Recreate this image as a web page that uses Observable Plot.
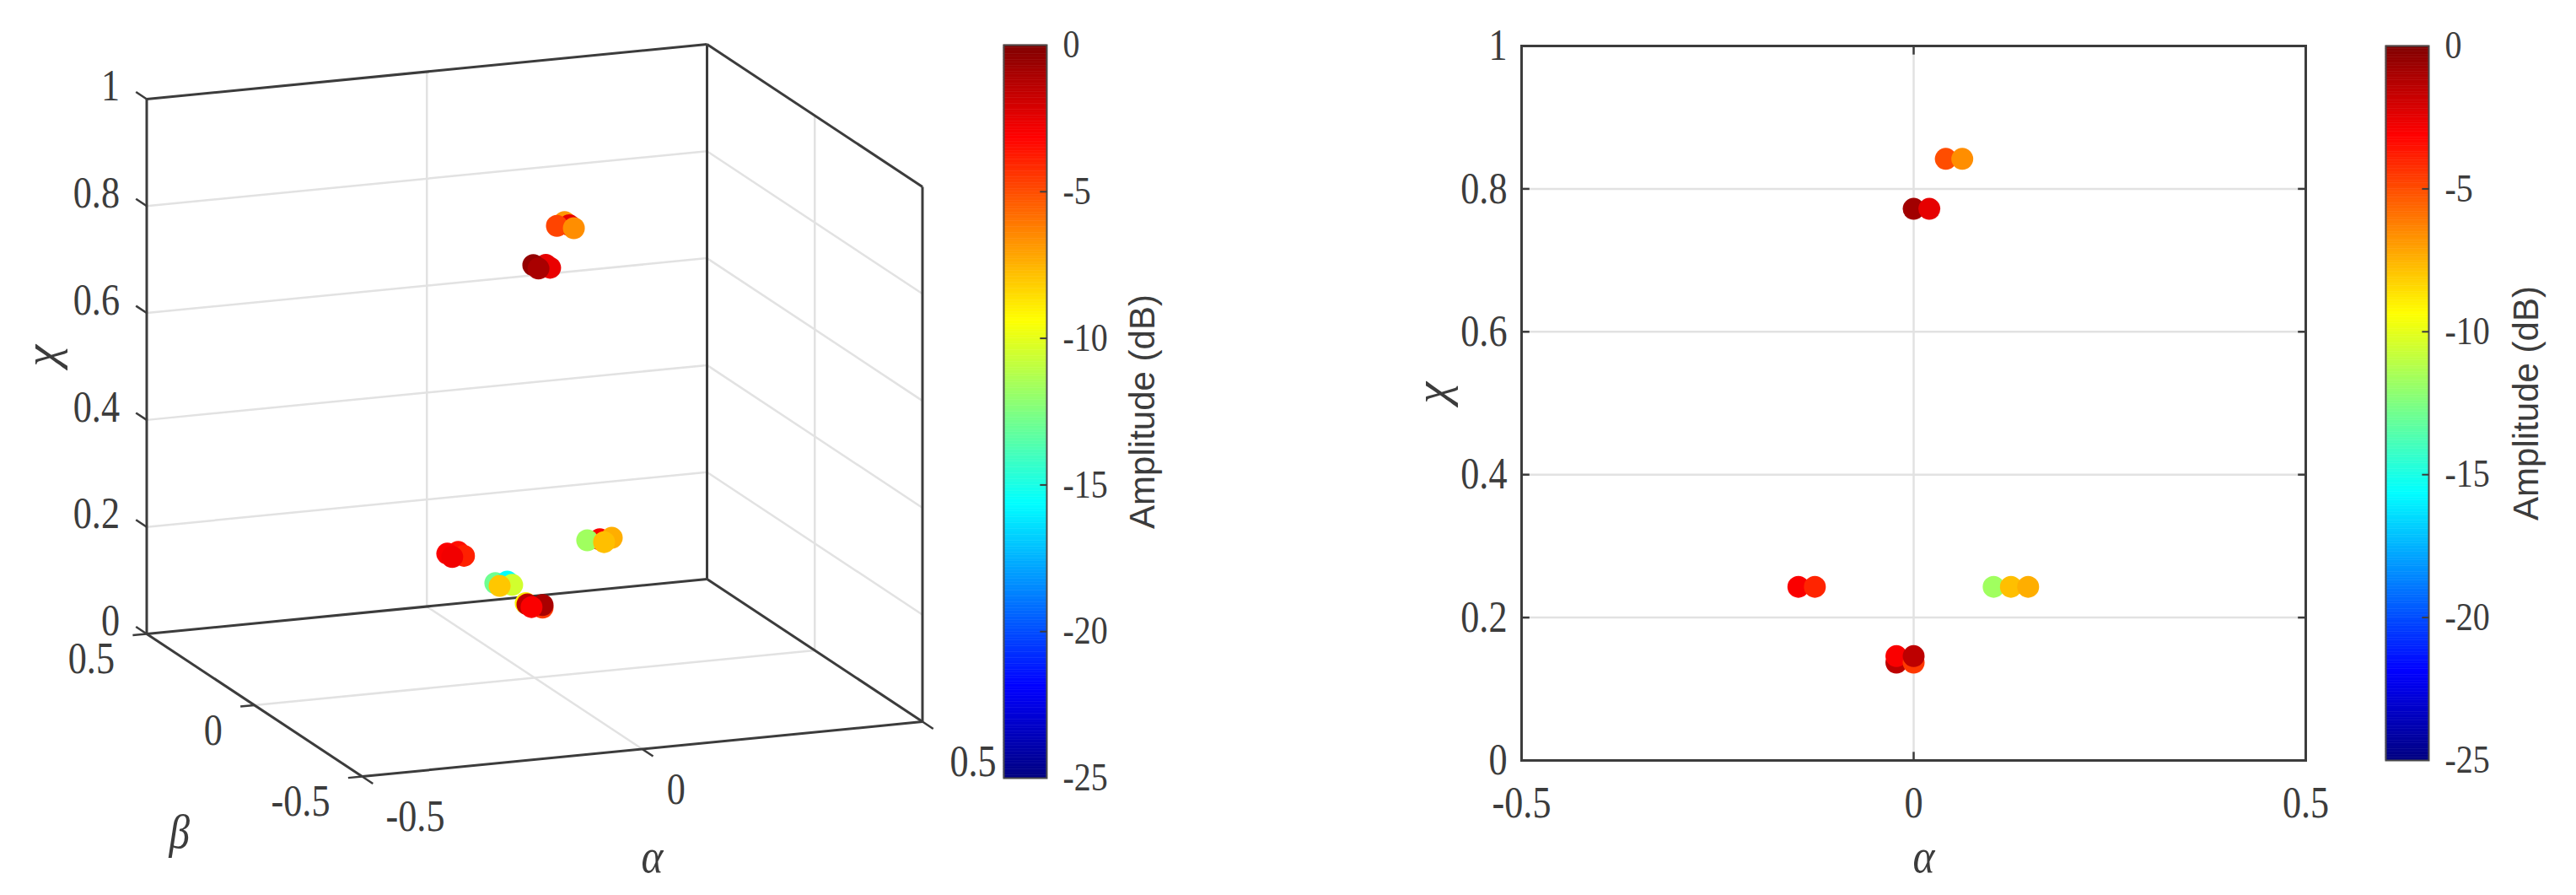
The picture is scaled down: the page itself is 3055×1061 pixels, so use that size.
<!DOCTYPE html>
<html>
<head>
<meta charset="utf-8">
<script src="https://cdn.jsdelivr.net/npm/d3@7"></script>
<script src="https://cdn.jsdelivr.net/npm/@observablehq/plot@0.6"></script>
<style>
html,body{margin:0;padding:0;background:#fff;}
#page{position:relative;width:3055px;height:1061px;overflow:hidden;}
#page>div{position:absolute;top:0;}
svg{display:block;max-width:none !important;}
#page svg text{font-family:"Liberation Serif","Times New Roman",serif;}
#page svg g[font-family="Liberation Sans"] text{font-family:"Liberation Sans",Arial,sans-serif;}
</style>
</head>
<body>
<div id="page"><div id="p3d" style="left:0"></div><div id="cb1"></div><div id="p2d" style="left:1527px"></div><div id="cb2"></div></div>
<script>
// ---- Data ----
// 3-D view points, in drawing order
const a3 = [.062,.062,.041,.062,  .02,.02,0,0,  .124,.146,.102,.124,  -.126,-.126,-.147,-.147,  -.022,0,0,-.022,  -.022,-.022,0,0,-.022];
const b3 = [.022,0,.003,-.021,  0,-.02,.006,-.018,  .02,.0215,.021,0,  .027,0,.023,0,  .125,.127,.104,.105,  -.016,-.024,-.037,-.037,-.043];
const c3 = [.84,.84,.84,.84,  .77,.77,.77,.77,  .241,.241,.241,.241,  .241,.241,.241,.241,  .146,.146,.146,.146,  .146,.146,.141,.146,.146];
const d3v = [-6.8,-2.5,-4.8,-6.6,  -2.5,-2.6,-.5,-1,  -3,-7.4,-11.7,-7.8,  -3.5,-3.9,-3,-2.8,  -12.9,-15.6,-10.5,-8,  -9,-1.5,-4.5,-1,-3];
// 2-D view points
const a2 = [.041,.062,0,.02,-.147,-.126,.102,.124,.146,-.022,-.022,0,0];
const c2 = [.842,.842,.772,.772,.243,.243,.243,.243,.243,.137,.146,.137,.146];
const d2 = [-5,-6.6,-.8,-2.5,-3,-4,-11.7,-7.8,-7.4,-1.5,-3,-4.5,-1.5];
// ticks
const alphaTicks = [-.5,0,.5];
const betaTicks = [.5,0,-.5];
const chiTicks = [0,.2,.4,.6,.8,1];
const chiGrid = [.2,.4,.6,.8];
const dbTicks = [0,-5,-10,-15,-20,-25];
// jet colormap
const jetDomain = [-25,-21.875,-15.625,-9.375,-3.125,0];
const jetRange = ["#000080","#0000ff","#00ffff","#ffff00","#ff0000","#800000"];
const ink = "#3c3c3c", gridInk = "#e2e2e2", serif = "Liberation Serif", sans = "Liberation Sans";
const tickFont = 52, greekFont = 58, barFont = 46, dotR = 13;
const color = {type:"linear",domain:jetDomain,range:jetRange,interpolate:"rgb"};
const fmt = d=>String(d);

// ---- 3-D view: orthographic projection of (alpha,beta,chi) ----
const pu = (a,b)=> a - 0.3845*b;
const pv = (a,b,c)=> c + 0.1025*a + 0.2666*b;
const P = (a,b,c)=>({u:pu(a,b),v:pv(a,b,c)});
const seg = (p,q)=>({x1:p.u,y1:p.v,x2:q.u,y2:q.v});
const links = list => list.map(([p,q])=>seg(P(...p),P(...q)));
const link = (list,o)=>Plot.link(links(list),{x1:"x1",y1:"y1",x2:"x2",y2:"y2",...o});

const gridSegs = [
  ...chiGrid.map(c=>[[-.5,.5,c],[.5,.5,c]]),
  ...chiGrid.map(c=>[[.5,.5,c],[.5,-.5,c]]),
  [[0,.5,0],[0,.5,1]], [[.5,0,0],[.5,0,1]],
  [[0,.5,0],[0,-.5,0]], [[-.5,0,0],[.5,0,0]]
];
const boxSegs = [
  [[-.5,.5,1],[.5,.5,1]],[[.5,.5,1],[.5,-.5,1]],
  [[-.5,.5,0],[-.5,.5,1]],[[.5,.5,0],[.5,.5,1]],[[.5,-.5,0],[.5,-.5,1]],
  [[-.5,.5,0],[.5,.5,0]],[[.5,.5,0],[.5,-.5,0]],[[.5,-.5,0],[-.5,-.5,0]],[[-.5,-.5,0],[-.5,.5,0]]
];
const tickSegs = [
  ...chiTicks.map(c=>[[-.5,.5,c],[-.5,.55,c]]),
  ...alphaTicks.map(a=>[[a,-.5,0],[a,-.55,0]]),
  ...betaTicks.map(b=>[[-.5,b,0],[-.525,b,0]])
];
const pts3 = a3.map((a,i)=>({...P(a,b3[i],c3[i]),db:d3v[i]}));
const alphaDx = [63,40,60];
const txt = (list,o)=>Plot.text(list,{x:"u",y:"v",text:"t",fontFamily:serif,fontSize:tickFont,fill:ink,...o});
const lab = (arr,f,t=fmt)=>arr.map(v=>({...f(v),t:t(v)}));
const greek = o=>({frameAnchor:"top-left",lineAnchor:"middle",fontFamily:serif,fontStyle:"italic",fontSize:greekFont,fill:ink,...o});

// Reference glyphs are taller than wide: narrow every upright text to the reference's proportion.
function narrow(svg,k){
  svg.querySelectorAll("text").forEach(t=>{
    const g=t.closest("g");
    const tr=(t.getAttribute("transform")||"")+(g&&g.getAttribute("transform")||"");
    if(tr.includes("rotate")) return;
    t.setAttribute("textLength",t.getComputedTextLength()*k);
    t.setAttribute("lengthAdjust","spacingAndGlyphs");
  });
}

const p3 = Plot.plot({
  width:1527,height:1061,margin:0,
  x:{domain:[-633.5/664.5,(1527-633.5)/664.5],range:[0,1527],axis:null},
  y:{domain:[(803-1061)/634,803/634],range:[1061,0],axis:null},
  color,
  style:{background:"transparent",overflow:"visible"},
  marks:[
    link(gridSegs,{stroke:gridInk,strokeWidth:2.5}),
    link(boxSegs,{stroke:ink,strokeWidth:3}),
    link(tickSegs,{stroke:ink,strokeWidth:2.5}),
    Plot.dot(pts3,{x:"u",y:"v",r:dotR,fill:"db",stroke:null}),
    txt(lab(chiTicks,c=>P(-.5,.5,c)),{textAnchor:"end",dx:-32,dy:-15}),
    ...alphaTicks.map((a,i)=>txt([{...P(a,-.5,0),t:fmt(a)}],{dx:alphaDx[i],dy:48})),
    txt(lab(betaTicks,b=>P(-.5,b,0)),{textAnchor:"end",dx:-38,dy:30}),
    Plot.text(["α"],greek({dx:760,dy:1015})),
    Plot.text(["β"],greek({dx:200,dy:986})),
    Plot.text(["χ"],greek({dx:49,dy:434,rotate:-90}))
  ]
});
document.getElementById("p3d").append(p3);
narrow(p3,.85);

// ---- 2-D view ----
const pts2 = a2.map((a,i)=>({a,c:c2[i],db:d2[i]}));
const p2 = Plot.plot({
  width:1528,height:1061,marginLeft:277,marginRight:321,marginTop:54,marginBottom:160,
  x:{domain:[-.5,.5],axis:null},
  y:{domain:[0,1],axis:null},
  color,
  style:{background:"transparent",overflow:"visible"},
  marks:[
    Plot.ruleY(chiGrid,{stroke:gridInk,strokeWidth:2.5}),
    Plot.ruleX([0],{stroke:gridInk,strokeWidth:2.5}),
    Plot.frame({stroke:ink,strokeWidth:3}),
    Plot.link(chiGrid,{x1:-.5,x2:-.49,y1:d=>d,y2:d=>d,stroke:ink,strokeWidth:2.5}),
    Plot.link(chiGrid,{x1:.5,x2:.49,y1:d=>d,y2:d=>d,stroke:ink,strokeWidth:2.5}),
    Plot.link([0],{x1:0,x2:0,y1:0,y2:.012,stroke:ink,strokeWidth:2.5}),
    Plot.link([0],{x1:0,x2:0,y1:1,y2:.988,stroke:ink,strokeWidth:2.5}),
    Plot.dot(pts2,{x:"a",y:"c",r:dotR,fill:"db",stroke:null}),
    Plot.axisX(alphaTicks,{tickSize:0,tickPadding:31,tickFormat:fmt,label:null,fontFamily:serif,fontSize:tickFont,fill:ink}),
    Plot.axisY(chiTicks,{tickSize:0,tickPadding:17,tickFormat:fmt,label:null,fontFamily:serif,fontSize:tickFont,fill:ink}),
    Plot.text(["α"],greek({dx:741-277,dy:1015-54})),
    Plot.text(["χ"],greek({dx:171-277,dy:478-54,rotate:-90}))
  ]
});
document.getElementById("p2d").append(p2);
narrow(p2,.85);

// ---- Colour bars ----
const ramp = d3.range(0,250).map(i=>({y1:-25+i*.1,y2:-25+(i+1)*.1,db:-25+(i+.5)*.1}));
function colorbar(id,left,top,bottom,labelDx){
  const plot = Plot.plot({
    width:226,height:1061,marginLeft:0,marginRight:175,marginTop:top,marginBottom:1061-bottom,
    x:{domain:[0,1],axis:null},
    y:{domain:[-25,0],axis:null},
    color,
    style:{background:"transparent",overflow:"visible"},
    marks:[
      Plot.rectY(ramp,{x1:0,x2:1,y1:"y1",y2:"y2",fill:"db",stroke:"db",strokeWidth:.5}),
      Plot.frame({stroke:"#4a4a4a",strokeWidth:2}),
      Plot.link(dbTicks.slice(1,-1),{x1:.84,x2:1,y1:d=>d,y2:d=>d,stroke:"#3c3c3c",strokeWidth:2}),
      Plot.axisY(dbTicks,{anchor:"right",tickSize:0,tickPadding:19,tickFormat:fmt,label:null,fontFamily:serif,fontSize:barFont,fill:ink,textAnchor:"start"}),
      Plot.text(["Amplitude (dB)"],{frameAnchor:"right",textAnchor:"middle",dx:labelDx,rotate:-90,fontFamily:sans,fontSize:42,fill:ink})
    ]
  });
  const host=document.getElementById(id);
  host.style.left=left+"px";
  host.append(plot);
  narrow(plot,.87);
}
colorbar("cb1",1190,53,922,114);
colorbar("cb2",2829,54,901,116);
</script>
</body>
</html>
